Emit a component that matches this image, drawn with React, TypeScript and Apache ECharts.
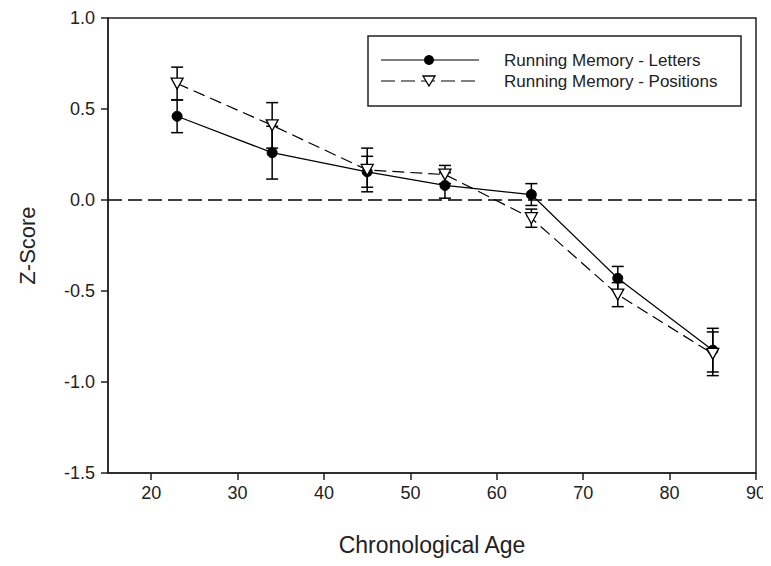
import React, { useEffect, useRef } from "react";
import * as echarts from "echarts";

const ages = [23, 34, 45, 54, 64, 74, 85];
const lettersMean = [0.46, 0.26, 0.155, 0.08, 0.03, -0.43, -0.825];
const lettersErr = [0.09, 0.145, 0.085, 0.07, 0.06, 0.065, 0.12];
const positionsMean = [0.64, 0.41, 0.165, 0.14, -0.1, -0.52, -0.845];
const positionsErr = [0.09, 0.125, 0.12, 0.05, 0.05, 0.066, 0.12];
const xTicks = [20, 30, 40, 50, 60, 70, 80, 90];
const seriesNames = ["Running Memory - Letters", "Running Memory - Positions"];

const FONT = "Liberation Sans, Arial, sans-serif";

function errData(means: number[], errs: number[]) {
  return ages.map((a, i) => [a, means[i] - errs[i], means[i] + errs[i]]);
}

function errRender(params: any, api: any) {
  const x = api.value(0);
  const lo = api.coord([x, api.value(1)]);
  const hi = api.coord([x, api.value(2)]);
  const hw = 6;
  const style = { stroke: "#000", lineWidth: 1.5 };
  return {
    type: "group",
    children: [
      { type: "line", shape: { x1: lo[0], y1: lo[1], x2: hi[0], y2: hi[1] }, style },
      { type: "line", shape: { x1: lo[0] - hw, y1: lo[1], x2: lo[0] + hw, y2: lo[1] }, style },
      { type: "line", shape: { x1: hi[0] - hw, y1: hi[1], x2: hi[0] + hw, y2: hi[1] }, style },
    ],
  };
}

const triPath = "path://M0,0 L10,0 L5,9 Z";

export default function App() {
  const ref = useRef<HTMLDivElement>(null);
  useEffect(() => {
    if (!ref.current) return;
    const chart = echarts.init(ref.current, undefined, { renderer: "svg" });
    const lx1 = 381, lx2 = 479, lmx = 429, ltx = 504, ly1 = 60, ly2 = 81;
    chart.setOption({
      animation: false,
      backgroundColor: "#fff",
      grid: {
        left: 108,
        right: 15,
        top: 18,
        bottom: 93,
        show: true,
        borderColor: "#222",
        borderWidth: 1.5,
        backgroundColor: "transparent",
      },
      xAxis: {
        type: "value",
        min: 15,
        max: 90,
        name: "Chronological Age",
        nameLocation: "middle",
        nameGap: 60,
        nameTextStyle: { fontFamily: FONT, fontSize: 23, color: "#222" },
        axisLine: { onZero: false, lineStyle: { color: "#222", width: 1.5 } },
        axisTick: { show: true, inside: false, length: 7, customValues: xTicks, lineStyle: { color: "#222", width: 1.5 } },
        axisLabel: {
          customValues: xTicks,
          margin: 11,
          fontFamily: FONT,
          fontSize: 18,
          color: "#222",
        },
        splitLine: { show: false },
      },
      yAxis: {
        type: "value",
        min: -1.5,
        max: 1.0,
        interval: 0.5,
        name: "Z-Score",
        nameLocation: "middle",
        nameGap: 70,
        nameTextStyle: { fontFamily: FONT, fontSize: 22, color: "#222" },
        axisLine: { show: true, onZero: false, lineStyle: { color: "#222", width: 1.5 } },
        axisTick: { show: true, inside: false, length: 7, lineStyle: { color: "#222", width: 1.5 } },
        axisLabel: {
          margin: 13,
          fontFamily: FONT,
          fontSize: 18,
          color: "#222",
          formatter: (v: number) => v.toFixed(1),
        },
        splitLine: { show: false },
      },
      series: [
        {
          type: "line",
          name: "zero",
          data: [],
          silent: true,
          markLine: {
            silent: true,
            symbol: "none",
            label: { show: false },
            lineStyle: { color: "#000", type: [14, 6], width: 1.5 },
            data: [{ yAxis: 0 }],
          },
        },
        {
          type: "custom",
          name: "errL",
          renderItem: errRender,
          data: errData(lettersMean, lettersErr),
          z: 3,
        },
        {
          type: "custom",
          name: "errP",
          renderItem: errRender,
          data: errData(positionsMean, positionsErr),
          z: 3,
        },
        {
          type: "line",
          name: seriesNames[0],
          data: ages.map((a, i) => [a, lettersMean[i]]),
          symbol: "circle",
          symbolSize: 10,
          itemStyle: { color: "#000", borderColor: "#000" },
          lineStyle: { color: "#000", width: 1.2 },
          z: 4,
        },
        {
          type: "line",
          name: seriesNames[1],
          data: ages.map((a, i) => [a, positionsMean[i]]),
          symbol: triPath,
          symbolSize: [12, 11],
          showAllSymbol: true,
          itemStyle: { color: "#fff", borderColor: "#000", borderWidth: 1.3 },
          lineStyle: { color: "#000", width: 1.2, type: [12, 6] },
          z: 5,
        },
      ],
      graphic: [
        {
          type: "rect",
          shape: { x: 368, y: 36, width: 373, height: 70 },
          style: { fill: "#fff", stroke: "#222", lineWidth: 1.5 },
          z: 10,
        },
        {
          type: "line",
          shape: { x1: lx1, y1: ly1, x2: lx2, y2: ly1 },
          style: { stroke: "#000", lineWidth: 1.2 },
          z: 11,
        },
        {
          type: "circle",
          shape: { cx: lmx, cy: ly1, r: 5 },
          style: { fill: "#000" },
          z: 12,
        },
        {
          type: "line",
          shape: { x1: lx1, y1: ly2, x2: lx2, y2: ly2 },
          style: { stroke: "#000", lineWidth: 1.2, lineDash: [14, 6] },
          z: 11,
        },
        {
          type: "polygon",
          shape: { points: [[lmx - 6, ly2 - 5], [lmx + 6, ly2 - 5], [lmx, ly2 + 5]] },
          style: { fill: "#fff", stroke: "#000", lineWidth: 1.3 },
          z: 12,
        },
        {
          type: "text",
          x: ltx,
          y: ly1,
          style: { text: seriesNames[0], font: `17px ${FONT}`, fill: "#222", verticalAlign: "middle" },
          z: 12,
        },
        {
          type: "text",
          x: ltx,
          y: ly2,
          style: { text: seriesNames[1], font: `17px ${FONT}`, fill: "#222", verticalAlign: "middle" },
          z: 12,
        },
      ],
    });
    return () => chart.dispose();
  }, []);
  return <div ref={ref} style={{ width: 771, height: 566, margin: -8 }} />;
}
